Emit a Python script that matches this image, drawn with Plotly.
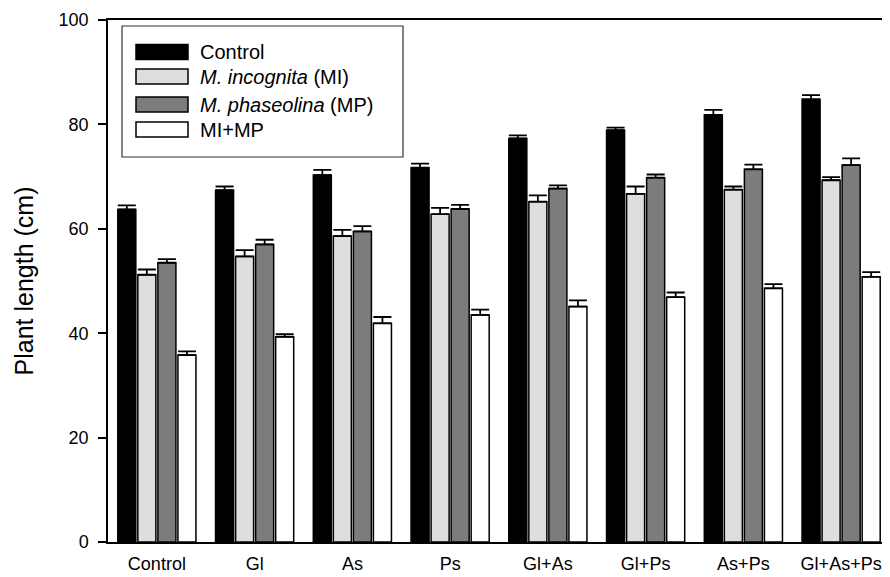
import plotly.graph_objects as go

categories = ["Control", "Gl", "As", "Ps", "Gl+As", "Gl+Ps", "As+Ps", "Gl+As+Ps"]

control = [63.7, 67.4, 70.3, 71.7, 77.3, 78.9, 81.8, 84.8]
control_err = [0.8, 0.7, 1.0, 0.8, 0.6, 0.5, 1.0, 0.8]

mi = [51.2, 54.7, 58.6, 62.8, 65.2, 66.7, 67.5, 69.3]
mi_err = [1.0, 1.2, 1.2, 1.2, 1.2, 1.4, 0.6, 0.6]

mp = [53.5, 57.0, 59.5, 63.8, 67.7, 69.8, 71.4, 72.2]
mp_err = [0.7, 0.9, 1.0, 0.8, 0.6, 0.6, 0.9, 1.3]

mimp = [35.8, 39.3, 41.9, 43.5, 45.1, 46.9, 48.6, 50.8]
mimp_err = [0.7, 0.5, 1.2, 1.0, 1.2, 0.9, 0.8, 0.9]

series_names = ["Control", "<i>M. incognita</i> (MI)", "<i>M. phaseolina</i> (MP)", "MI+MP"]
series_values = [control, mi, mp, mimp]
series_errors = [control_err, mi_err, mp_err, mimp_err]
series_colors = ["#000000", "#dedede", "#7c7c7c", "#ffffff"]

FONT = "Liberation Sans, Arial, sans-serif"

fig = go.Figure()
for name, vals, errs, col in zip(series_names, series_values, series_errors, series_colors):
    fig.add_trace(go.Bar(
        x=categories, y=vals, name=name,
        marker=dict(color=col, line=dict(color="black", width=1.5)),
        error_y=dict(type="data", array=errs, arrayminus=[0] * len(errs),
                     symmetric=False, color="black", thickness=1.8, width=9),
        showlegend=False,
    ))

# page has an 8px body margin; figure sized to fit the window
OFF = 8
FIG_W, FIG_H = 890 - OFF, 577 - OFF
# plot area in screen pixels
L, R, T, B = 108, 890, 20, 542
W, H = R - L, B - T


def px(x):
    return (x - L) / W


def py(y):
    return (B - y) / H


shapes = [dict(type="rect", xref="paper", yref="paper",
               x0=px(122), x1=px(403), y0=py(157), y1=py(26),
               line=dict(color="#333333", width=1.2), fillcolor="white", layer="above")]
annotations = []
row_centers = [52, 76.5, 104.5, 129.5]
for name, col, yc in zip(series_names, series_colors, row_centers):
    shapes.append(dict(type="rect", xref="paper", yref="paper",
                       x0=px(136), x1=px(188), y0=py(yc + 7.5), y1=py(yc - 7.5),
                       line=dict(color="black", width=1.5), fillcolor=col, layer="above"))
    annotations.append(dict(xref="paper", yref="paper", x=px(198), y=py(yc),
                            text=name, showarrow=False, xanchor="left", yanchor="middle",
                            font=dict(family=FONT, size=20, color="black")))

fig.update_layout(
    width=FIG_W, height=FIG_H,
    margin=dict(l=L - OFF, r=FIG_W - (R - OFF), t=T - OFF, b=FIG_H - (B - OFF),
                autoexpand=False),
    paper_bgcolor="white", plot_bgcolor="white",
    barmode="group", bargap=0.18, bargroupgap=0.1,
    font=dict(family=FONT, size=18, color="black"),
    shapes=shapes, annotations=annotations,
    xaxis=dict(range=[-0.5, 7.5], showline=True, linecolor="black", linewidth=1.5,
               mirror=True, ticks="", showgrid=False, zeroline=False, automargin=False,
               ticklabelstandoff=5,
               tickfont=dict(family=FONT, size=18, color="black")),
    yaxis=dict(range=[0, 100], tickvals=[0, 20, 40, 60, 80, 100], showline=True,
               linecolor="black", linewidth=1.5, ticks="outside", ticklen=8, tickwidth=1.5,
               tickcolor="black", showgrid=False, zeroline=False, automargin=False,
               ticklabelstandoff=6,
               tickfont=dict(family=FONT, size=18, color="black")),
)
fig.update_yaxes(title=dict(text="Plant length (cm)", standoff=18,
                            font=dict(family=FONT, size=25, color="black")))

fig.write_html("out.html")
